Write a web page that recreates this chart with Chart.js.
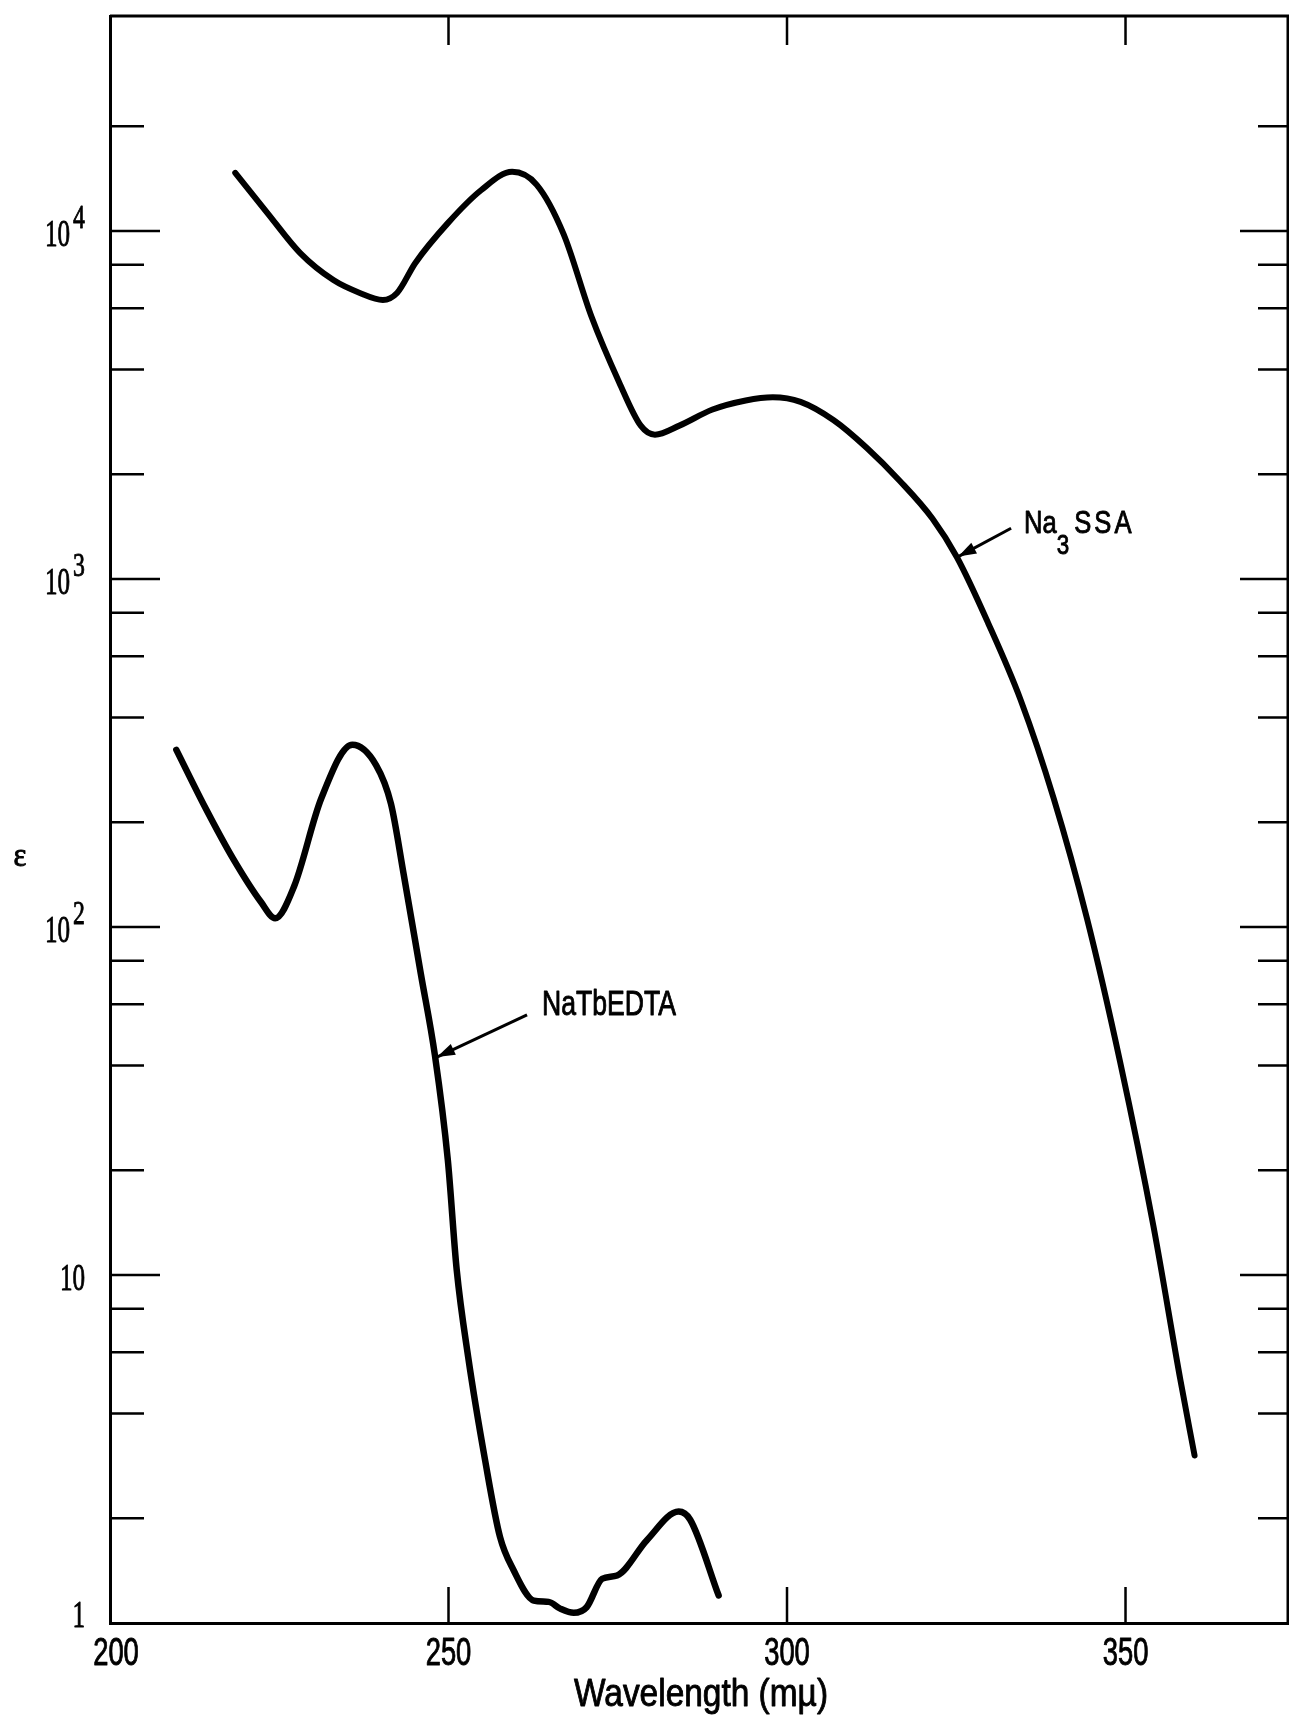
<!DOCTYPE html>
<html>
<head>
<meta charset="utf-8">
<script src="https://cdn.jsdelivr.net/npm/chart.js@4.4.1/dist/chart.umd.min.js"></script>
<style>
html,body{margin:0;padding:0;background:#fff;}
#wrap{width:1289px;height:1717px;}
</style>
</head>
<body>
<div id="wrap"><canvas id="chart" width="1289" height="1717"></canvas></div>
<script>
// Na3SSA curve (wavelength, epsilon)
let ssaX = [218.5, 223.2, 228.1, 233.0, 236.9, 240.3, 242.4, 245.1, 249.9, 254.8, 259.4, 263.0, 267.0, 271.1, 275.2, 278.4, 280.5, 284.1, 289.0, 293.9, 297.9, 302.0, 306.9, 311.8, 316.6, 321.5, 325.1, 329.7, 334.5, 339.4, 344.3, 349.2, 354.1, 358.1, 360.2];
let ssaY = [14700, 11300, 8640, 7230, 6640, 6340, 6640, 8100, 10540, 13100, 14800, 13600, 9800, 5690, 3680, 2760, 2600, 2760, 3070, 3260, 3330, 3230, 2860, 2380, 1920, 1490, 1155, 748, 450, 234, 106, 41, 13.9, 5.0, 3.03];

// NaTbEDTA curve
let tbX = [209.8, 214.2, 218.2, 222.3, 224.4, 227.2, 231.2, 235.8, 239.3, 241.5, 243.4, 245.9, 248.0, 249.9, 251.2, 252.9, 255.4, 257.6, 259.6, 262.6, 264.8, 266.5, 268.5, 270.4, 272.7, 274.9, 279.3, 284.0, 285.7, 289.9];
let tbY = [323, 218, 157, 118, 106, 131, 234, 334, 292, 226, 141, 73.6, 42.7, 21.4, 10.4, 5.82, 2.94, 1.77, 1.42, 1.16, 1.15, 1.10, 1.07, 1.11, 1.34, 1.37, 1.73, 2.09, 1.98, 1.20];

// axes
let xLabels = [200, 250, 300, 350];
let xTicks = [250, 300, 350];
let yMajor = [1, 10, 100, 1000, 10000];
let yBase = ["1", "10", "10", "10", "10"];
let yExp = ["", "", "2", "3", "4"];
let yMinor = [2, 4, 6, 8, 20, 40, 60, 80, 200, 400, 600, 800, 2000, 4000, 6000, 8000, 20000];

// labels on the curves: [tipX, tipY, tailX, tailY]
let ssaArrow = [325.3, 1160, 333.1, 1400];
let tbArrow = [248.3, 42.3, 261.6, 55.9];

function toPoints(xs, ys){ return xs.map((x,i)=>({x:x, y:ys[i]})); }

// text with a horizontal squeeze, returns drawn width
function txt(ctx, s, x, y, font, sx, align){
  ctx.save();
  ctx.font = font;
  let w = ctx.measureText(s).width*sx;
  let left = align=="right" ? x-w : align=="center" ? x-w/2 : x;
  ctx.translate(left, y);
  ctx.scale(sx, 1);
  ctx.textAlign = "left";
  ctx.textBaseline = "alphabetic";
  ctx.lineWidth = 0.9;
  ctx.lineJoin = "round";
  ctx.fillText(s, 0, 0);
  ctx.strokeText(s, 0, 0);   // a bit heavier, like the print
  ctx.restore();
  return w;
}

function arrow(ctx, x1, y1, x2, y2){
  ctx.lineWidth = 3;
  ctx.beginPath(); ctx.moveTo(x2, y2); ctx.lineTo(x1, y1); ctx.stroke();
  let ang = Math.atan2(y1-y2, x1-x2);
  let len = 18, hw = 6;
  ctx.beginPath();
  ctx.moveTo(x1, y1);
  ctx.lineTo(x1 - len*Math.cos(ang) + hw*Math.sin(ang), y1 - len*Math.sin(ang) - hw*Math.cos(ang));
  ctx.lineTo(x1 - len*Math.cos(ang) - hw*Math.sin(ang), y1 - len*Math.sin(ang) + hw*Math.cos(ang));
  ctx.closePath(); ctx.fill();
}

let decor = {
  id: "decor",
  afterDraw(chart){
    let ctx = chart.ctx, a = chart.chartArea;
    let xs = chart.scales.x, ys = chart.scales.y;
    ctx.save();
    ctx.strokeStyle = "#000"; ctx.fillStyle = "#000";

    // top + right frame
    ctx.lineWidth = 3;
    ctx.beginPath();
    ctx.moveTo(a.left, a.top); ctx.lineTo(a.right, a.top); ctx.lineTo(a.right, a.bottom);
    ctx.stroke();

    // tick marks, all pointing inwards
    ctx.lineWidth = 2.5;
    ctx.beginPath();
    yMajor.forEach(v=>{
      if(v==1) return;
      let y = ys.getPixelForValue(v);
      ctx.moveTo(a.left, y); ctx.lineTo(a.left+50, y);
      ctx.moveTo(a.right, y); ctx.lineTo(a.right-48, y);
    });
    yMinor.forEach(v=>{
      let y = ys.getPixelForValue(v);
      ctx.moveTo(a.left, y); ctx.lineTo(a.left+34, y);
      ctx.moveTo(a.right, y); ctx.lineTo(a.right-30, y);
    });
    xTicks.forEach(v=>{
      let x = xs.getPixelForValue(v);
      ctx.moveTo(x, a.bottom); ctx.lineTo(x, a.bottom-36);
      ctx.moveTo(x, a.top); ctx.lineTo(x, a.top+29);
    });
    ctx.stroke();

    // y tick labels with exponents
    let serif = '"Liberation Serif", "DejaVu Serif", serif';
    yMajor.forEach((v,i)=>{
      let y = ys.getPixelForValue(v);
      let base = Math.min(y+15, a.bottom+4);
      let right = a.left-25;
      if(yExp[i]){
        let w = txt(ctx, yExp[i], right, base-18, "34px "+serif, 0.7, "right");
        right -= w+3;
      }
      txt(ctx, yBase[i], right, base, "38px "+serif, 0.66, "right");
    });

    // x tick labels
    let sans = '"Liberation Sans", "DejaVu Sans", sans-serif';
    xLabels.forEach(v=>{
      let x = xs.getPixelForValue(v);
      txt(ctx, String(v), x+(v==200?6:0), a.bottom+42, "38px "+sans, 0.72, "center");
    });

    // axis titles
    txt(ctx, "Wavelength (mµ)", (a.left+a.right)/2+2, a.bottom+83, "38px "+sans, 0.88, "center");
    txt(ctx, "ε", a.left-90, ys.getPixelForValue(150), "34px "+serif, 0.9, "center");

    // Na3SSA label
    arrow(ctx, xs.getPixelForValue(ssaArrow[0]), ys.getPixelForValue(ssaArrow[1]),
               xs.getPixelForValue(ssaArrow[2]), ys.getPixelForValue(ssaArrow[3]));
    let lx = xs.getPixelForValue(ssaArrow[2])+13, ly = ys.getPixelForValue(ssaArrow[3])+5;
    lx += txt(ctx, "Na", lx, ly, "32px "+sans, 0.8, "left");
    lx += txt(ctx, "3", lx, ly+21, "28px "+sans, 0.8, "left") + 5;
    ["S","S","A"].forEach(c=>{ lx += txt(ctx, c, lx, ly, "32px "+sans, 0.8, "left") + 3; });

    // NaTbEDTA label
    arrow(ctx, xs.getPixelForValue(tbArrow[0]), ys.getPixelForValue(tbArrow[1]),
               xs.getPixelForValue(tbArrow[2]), ys.getPixelForValue(tbArrow[3]));
    txt(ctx, "NaTbEDTA", xs.getPixelForValue(tbArrow[2])+15, ys.getPixelForValue(tbArrow[3]), "35px "+sans, 0.76, "left");

    ctx.restore();
  }
};

let ctx = document.getElementById("chart").getContext("2d");
new Chart(ctx, {
  type: "line",
  data: {
    datasets: [
      {label: "Na3SSA", data: toPoints(ssaX, ssaY), borderColor: "#000", borderWidth: 6,
       pointRadius: 0, fill: false, cubicInterpolationMode: "monotone", borderCapStyle: "round", borderJoinStyle: "round"},
      {label: "NaTbEDTA", data: toPoints(tbX, tbY), borderColor: "#000", borderWidth: 6.5,
       pointRadius: 0, fill: false, cubicInterpolationMode: "monotone", borderCapStyle: "round", borderJoinStyle: "round"}
    ]
  },
  options: {
    responsive: false,
    animation: false,
    devicePixelRatio: 1,
    layout: {padding: {left: 110, top: 16, right: 1, bottom: 94}},
    plugins: {legend: {display: false}, tooltip: {enabled: false}},
    scales: {
      x: {type: "linear", min: 200, max: 374,
          ticks: {display: false}, grid: {display: false, drawTicks: false},
          border: {display: true, color: "#000", width: 3}},
      y: {type: "logarithmic", min: 1, max: 41500,
          ticks: {display: false}, grid: {display: false, drawTicks: false},
          border: {display: true, color: "#000", width: 3}}
    }
  },
  plugins: [decor]
});
</script>
</body>
</html>
